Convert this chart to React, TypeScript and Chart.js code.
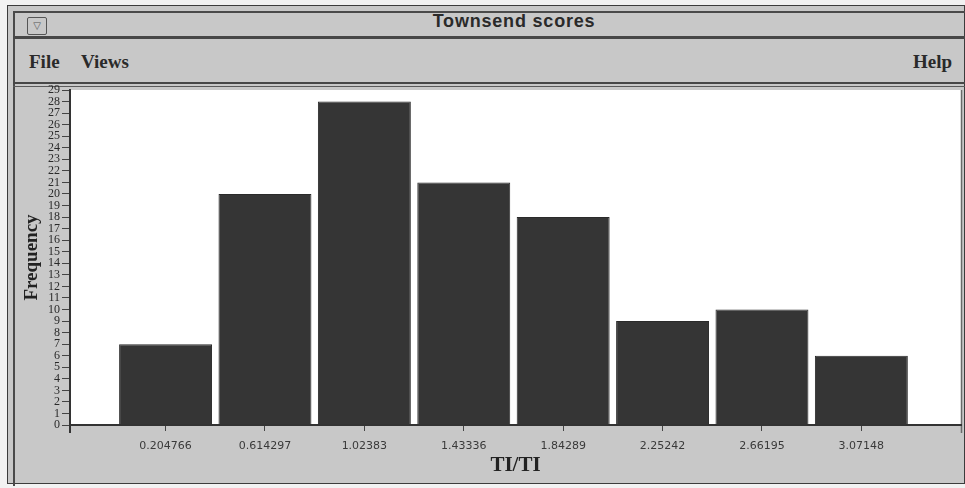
import React, { useEffect, useRef } from "react";
import { Chart, registerables } from "chart.js";

Chart.register(...registerables);

// ---- data ----
const binCenters = [0.204766, 0.614297, 1.02383, 1.43336, 1.84289, 2.25242, 2.66195, 3.07148];
const binLabels = ["0.204766", "0.614297", "1.02383", "1.43336", "1.84289", "2.25242", "2.66195", "3.07148"];
const frequencies = [7, 20, 28, 21, 18, 9, 10, 6];
const xMin = -0.189;
const xMax = 3.482;
const yMax = 29;

const windowTitle = "Townsend scores";
const xTitle = "TI/TI";
const yTitle = "Frequency";

const plotBg = {
  id: "plotBg",
  beforeDraw(chart: any) {
    const { ctx, chartArea } = chart;
    ctx.save();
    ctx.fillStyle = "#ffffff";
    ctx.fillRect(chartArea.left, chartArea.top, chartArea.right - chartArea.left, chartArea.bottom - chartArea.top);
    ctx.strokeStyle = "#6a6a6a";
    ctx.lineWidth = 1.5;
    ctx.beginPath();
    ctx.moveTo(chartArea.right + 0.5, chartArea.top);
    ctx.lineTo(chartArea.right + 0.5, chartArea.bottom + 8);
    ctx.stroke();
    ctx.restore();
  },
  afterDraw(chart: any) {
    const { ctx, chartArea } = chart;
    ctx.save();
    ctx.strokeStyle = "#333";
    ctx.lineWidth = 2;
    ctx.beginPath();
    ctx.moveTo(chartArea.left, chartArea.bottom);
    ctx.lineTo(chartArea.left, chartArea.bottom + 8);
    ctx.stroke();
    ctx.restore();
  },
};

function HistogramChart() {
  const ref = useRef<HTMLCanvasElement | null>(null);
  useEffect(() => {
    if (!ref.current) return;
    const chart = new Chart(ref.current, {
      type: "bar",
      data: {
        datasets: [
          {
            label: yTitle,
            data: binCenters.map((x, i) => ({ x, y: frequencies[i] })),
            backgroundColor: "#353535",
            borderColor: "#2a2a2a",
            borderWidth: 1,
            barPercentage: 0.935,
            categoryPercentage: 1,
          },
        ],
      },
      options: {
        animation: false,
        responsive: false,
        devicePixelRatio: 1,
        layout: { padding: { top: 90, right: 4, left: 0, bottom: 0 } },
        plugins: { legend: { display: false }, tooltip: { enabled: false } },
        scales: {
          x: {
            type: "linear",
            offset: false,
            min: xMin,
            max: xMax,
            afterFit: (s: any) => {
              s.height = 63;
            },
            afterBuildTicks: (s: any) => {
              s.ticks = binCenters.map((v) => ({ value: v }));
            },
            ticks: {
              autoSkip: false,
              maxRotation: 0,
              padding: 9,
              color: "#3a3a3a",
              font: { family: "DejaVu Sans", size: 11 },
              callback: (v: any) => {
                const i = binCenters.findIndex((c) => Math.abs(c - Number(v)) < 1e-6);
                return i >= 0 ? binLabels[i] : "";
              },
            },
            grid: { offset: false, drawOnChartArea: false, tickLength: 6, color: "#444", lineWidth: 1 },
            border: { display: true, color: "#333", width: 2 },
            title: {
              display: true,
              text: xTitle,
              color: "#222",
              font: { family: "Liberation Serif", size: 21, weight: "bold" },
              padding: { top: 0, bottom: 10 },
            },
          },
          y: {
            min: 0,
            max: yMax,
            afterFit: (s: any) => {
              s.width = 70;
            },
            ticks: {
              stepSize: 1,
              autoSkip: false,
              padding: 2,
              color: "#2a2a2a",
              font: { family: "Liberation Serif", size: 12 },
            },
            grid: { drawOnChartArea: false, tickLength: 8, color: "#444", lineWidth: 1 },
            border: { display: true, color: "#333", width: 2 },
            title: {
              display: true,
              text: yTitle,
              color: "#222",
              font: { family: "Liberation Serif", size: 19, weight: "bold" },
              padding: { top: 21, bottom: 0 },
            },
          },
        },
      },
      plugins: [plotBg],
    } as any);
    return () => chart.destroy();
  }, []);
  return (
    <canvas
      ref={ref}
      width={965}
      height={488}
      style={{ position: "absolute", left: 0, top: 0, width: 965, height: 488 }}
    />
  );
}

export default function App() {
  const abs = (s: React.CSSProperties): React.CSSProperties => ({ position: "absolute", ...s });
  const menuFont: React.CSSProperties = { fontFamily: "Liberation Serif", fontWeight: "bold", fontSize: 19, color: "#2a2a2a", lineHeight: "22px" };
  return (
    <div style={{ position: "fixed", left: 0, top: 0, width: 965, height: 488, background: "#f2f2f2", overflow: "hidden" }}>
      {/* window frame */}
      <div style={abs({ left: 7, top: 5, width: 956, height: 477, border: "1.5px solid #3c3c3c", background: "#c8c8c8" })} />
      <div style={abs({ left: 13, top: 11, width: 952, height: 473, borderLeft: "2px solid #4a4a4a", borderTop: "2px solid #4a4a4a" })} />
      {/* title bar */}
      <div style={abs({ left: 27, top: 17, width: 18, height: 16, border: "1.5px solid #555", borderRadius: 2, fontSize: 10, lineHeight: "16px", textAlign: "center", color: "#555", fontFamily: "DejaVu Sans" })}>▽</div>
      <div style={abs({ left: 0, top: 10, width: 1028, height: 22, textAlign: "center", fontFamily: "Liberation Sans", fontWeight: "bold", fontSize: 18, lineHeight: "22px", color: "#2a2a2a", letterSpacing: 0.8 })}>{windowTitle}</div>
      <div style={abs({ left: 13, top: 36, width: 952, height: 3, background: "#474747" })} />
      {/* menu bar */}
      <div style={abs({ left: 29, top: 51, ...menuFont })}>File</div>
      <div style={abs({ left: 81, top: 51, ...menuFont })}>Views</div>
      <div style={abs({ left: 913, top: 51, ...menuFont })}>Help</div>
      <div style={abs({ left: 13, top: 82, width: 952, height: 2, background: "#474747" })} />
      <div style={abs({ left: 13, top: 86, width: 952, height: 1, background: "#5a5a5a" })} />
      <HistogramChart />
    </div>
  );
}
